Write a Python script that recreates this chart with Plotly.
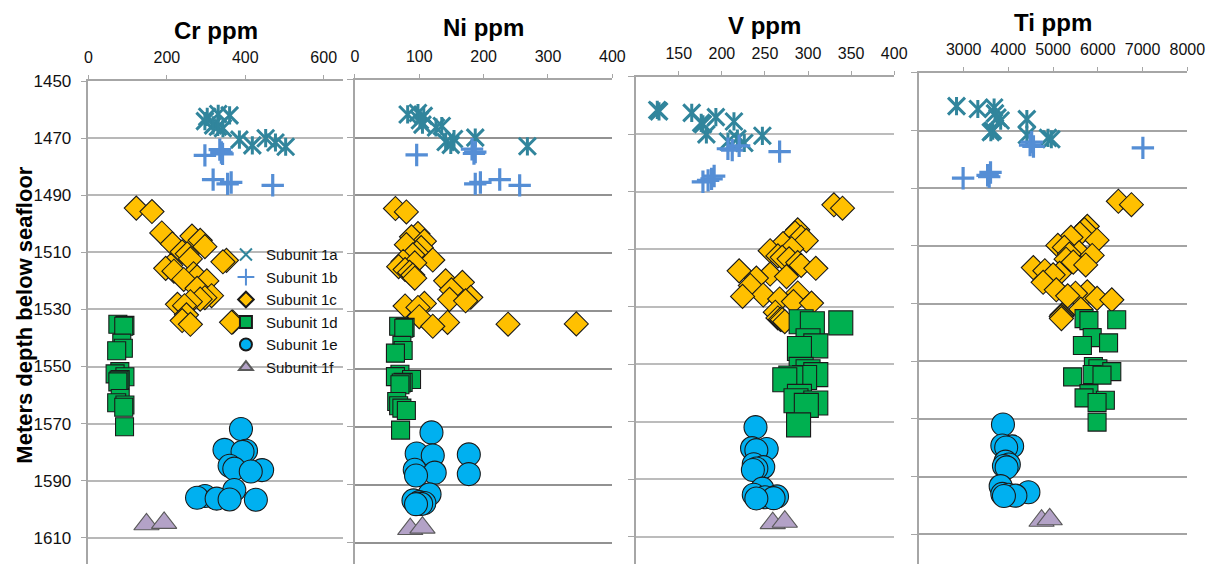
import plotly.graph_objects as go

# ---------------------------------------------------------------------------
# Data: depth (m below seafloor) of each sample and its element content (ppm)
# ---------------------------------------------------------------------------
SUBUNITS = ["Subunit 1a", "Subunit 1b", "Subunit 1c", "Subunit 1d", "Subunit 1e", "Subunit 1f"]
PANEL_TITLES = ["Cr ppm", "Ni ppm", "V ppm", "Ti ppm"]

D_1A = [1461.5, 1462.0, 1462.5, 1464.0, 1465.5, 1466.0, 1466.5, 1470.0, 1470.5, 1471.5, 1472.5, 1473.0]
CR_1A = [331, 360, 303, 297, 318, 330, 343, 452, 385, 477, 418, 503]
NI_1A = [98, 82, 107, 101, 105, 135, 126, 187, 154, 141, 149, 268]
V_1A = [125, 127, 165, 193, 214, 176, 178, 182, 247, 218, 207, 226]
TI_1A = [2840, 3680, 3316, 3700, 3754, 4412, 3827, 3650, 3607, 4412, 4886, 4960]

D_1B = [1474.0, 1475.0, 1475.5, 1476.0, 1484.5, 1485.5, 1486.0, 1486.5]
CR_1B = [335, 339, 342, 297, 318, 364, 355, 470]
NI_1B = [182, 187, 185, 96, 225, 195, 187, 256]
V_1B = [220, 207, 212, 267, 191, 188, 184, 178]
TI_1B = [4520, 4485, 4560, 7006, 3600, 3535, 3570, 2987]

D_1C = [1494.5, 1495.7, 1503.2, 1504.3, 1505.8, 1507.0, 1508.0, 1509.8, 1510.5, 1512.3,
        1512.8, 1513.3, 1514.6, 1515.6, 1516.6, 1517.5, 1518.6, 1519.5, 1520.0, 1522.6,
        1525.2, 1525.9, 1526.4, 1527.3, 1528.2, 1528.7, 1531.9, 1533.9, 1534.4, 1534.5, 1535.2]
CR_1C = [122, 162, 187, 264, 285, 214, 297, 239, 252, 260,
         352, 343, 210, 197, 218, 268, 277, 243, 302, 277,
         314, 297, 285, 260, 227, 245, 250, 239, 368, 365, 260]
NI_1C = [63, 80, 98, 88, 108, 80, 103, 96, 90, 121,
         75, 93, 68, 78, 85, 90, 93, 141, 167, 150,
         180, 147, 172, 108, 78, 98, 100, 144, 344, 238, 121]
V_1C = [330, 340, 288, 285, 292, 298, 271, 281, 256, 265,
        270, 278, 288, 292, 309, 220, 256, 275, 240, 233,
        288, 248, 224, 267, 283, 304, 262, 265, 268, 270, 273]
TI_1C = [6458, 6750, 5763, 5700, 5600, 5399, 5982, 5105, 5250, 5581,
         5362, 5873, 5289, 5450, 5728, 4557, 4814, 5143, 5000, 4776,
         5070, 5763, 5500, 5325, 5982, 6311, 5618, 5200, 5190, 5180, 5185]

D_1D = [1535.2, 1535.6, 1535.9, 1541.8, 1543.6, 1544.5, 1551.8, 1552.6, 1553.6,
        1554.6, 1554.8, 1555.4, 1561.2, 1562.7, 1563.5, 1564.3, 1571.1]
CR_1D = [75, 93, 90, 85, 89, 72, 80, 68, 93, 81, 78, 75, 81, 72, 93, 90, 92]
NI_1D = [68, 78, 76, 73, 75, 63, 70, 63, 88, 75, 72, 70, 65, 68, 73, 80, 71]
V_1D = [292, 338, 305, 300, 309, 290, 292, 300, 309, 296, 280, 273, 290, 286, 309, 298, 289]
TI_1D = [5691, 6421, 5800, 5873, 6239, 5654, 5900, 6000, 6311, 5873, 6092, 5435, 5800, 5691, 6167, 5982, 5982]

D_1E = [1571.9, 1579.2, 1579.5, 1579.9, 1584.8, 1585.8, 1586.3, 1586.8, 1593.3,
        1595.4, 1596.0, 1596.3, 1596.6, 1596.7]
CR_1E = [389, 347, 402, 393, 360, 372, 443, 414, 372, 297, 277, 327, 360, 427]
NI_1E = [119, 96, 177, 121, 93, 124, 177, 95, 116, 91, 100, 108, 103, 95]
V_1E = [239, 235, 252, 240, 237, 248, 240, 236, 247, 237, 264, 250, 260, 240]
TI_1E = [3878, 3864, 4083, 3950, 3936, 4009, 3900, 3960, 3827, 4447, 3864, 4000, 4156, 3900]

D_1F = [1605.3, 1604.8]
CR_1F = [148, 193]
NI_1F = [86, 105]
V_1F = [259, 273]
TI_1F = [4741, 4923]

DEPTHS = [D_1A, D_1B, D_1C, D_1D, D_1E, D_1F]
CR = [CR_1A, CR_1B, CR_1C, CR_1D, CR_1E, CR_1F]
NI = [NI_1A, NI_1B, NI_1C, NI_1D, NI_1E, NI_1F]
V = [V_1A, V_1B, V_1C, V_1D, V_1E, V_1F]
TI = [TI_1A, TI_1B, TI_1C, TI_1D, TI_1E, TI_1F]
ELEMENTS = [CR, NI, V, TI]

X_RANGES = [(0, 650), (0, 400), (100, 400), (2000, 8000)]
X_TICKS = [[0, 200, 400, 600],
           [0, 100, 200, 300, 400],
           [150, 200, 250, 300, 350, 400],
           [3000, 4000, 5000, 6000, 7000, 8000]]
DEPTH_TICKS = [1450, 1470, 1490, 1510, 1530, 1550, 1570, 1590, 1610]

# ---------------------------------------------------------------------------
# Layout geometry (pixels) and marker styles
# ---------------------------------------------------------------------------
W, H = 1224, 564
PANEL_X = [(86.0, 345.5), (357.3, 619.5), (643.3, 906.5), (931.7, 1205.0)]
PANEL_TOP = [73.3, 71.9, 69.0, 65.0]      # pixel row of the 1450 m line
PX_PER_M = [2.90, 2.94, 2.92, 2.93]
TITLE_Y = [22.0, 19.0, 17.0, 14.0]
GRID_COLORS = ["#b8b8b8", "#929292", "#bcbcbc", "#a4a4a4"]
SQUARE_SIZE = [18, 18, 24, 18]

FONT = "Arial, Liberation Sans, sans-serif"
AXIS_GREY = "#a6a6a6"

TEAL, BLUE = "#31859C", "#558ED5"


def marker_for(s, p):
    if s == 0:
        return dict(symbol="x-thin-open", size=17, color=TEAL, line=dict(color=TEAL, width=3))
    if s == 1:
        return dict(symbol="cross-thin-open", size=16, color=BLUE, line=dict(color=BLUE, width=3.2))
    if s == 2:
        return dict(symbol="diamond", size=18.5, color="#FFC000", line=dict(color="#1a1a1a", width=1.1))
    if s == 3:
        return dict(symbol="square", size=SQUARE_SIZE[p], color="#00B050", line=dict(color="#1a1a1a", width=1.1))
    if s == 4:
        return dict(symbol="circle", size=23, color="#00B0F0", line=dict(color="#1a1a1a", width=1.1))
    return dict(symbol="triangle-up", size=22, color="#B3A2C7", line=dict(color="#5a5a5a", width=1.1))


fig = go.Figure()

for p in range(4):
    xa = "x" if p == 0 else f"x{p + 1}"
    ya = "y" if p == 0 else f"y{p + 1}"
    for s, name in enumerate(SUBUNITS):
        fig.add_trace(go.Scatter(
            x=ELEMENTS[p][s], y=DEPTHS[s], mode="markers", name=name,
            legendgroup=name, showlegend=(p == 0),
            marker=marker_for(s, p), xaxis=xa, yaxis=ya, hoverinfo="x+y+name",
        ))
        if s == 0:
            # vertical stroke turns the x into a six-armed star
            fig.add_trace(go.Scatter(
                x=ELEMENTS[p][s], y=DEPTHS[s], mode="markers", name=name,
                legendgroup=name, showlegend=False,
                marker=dict(symbol="line-ns-open", size=13, color=TEAL,
                            line=dict(color=TEAL, width=3)),
                xaxis=xa, yaxis=ya, hoverinfo="skip",
            ))

layout = dict(
    width=W, height=H,
    margin=dict(l=0, r=0, t=0, b=0),
    paper_bgcolor="white", plot_bgcolor="white",
    font=dict(family=FONT, color="#111111"),
    showlegend=True,
    legend=dict(
        x=226 / W, y=1 - 233 / H, xanchor="left", yanchor="top",
        bgcolor="rgba(0,0,0,0)", borderwidth=0,
        font=dict(family=FONT, size=15, color="#111111"),
        itemsizing="constant", itemwidth=30, tracegroupgap=0,
    ),
)

for p in range(4):
    xkey = "xaxis" if p == 0 else f"xaxis{p + 1}"
    ykey = "yaxis" if p == 0 else f"yaxis{p + 1}"
    x0, x1 = PANEL_X[p]
    top = PANEL_TOP[p]
    bottom_depth = 1450 + (H - top) / PX_PER_M[p]
    layout[xkey] = dict(
        domain=[x0 / W, x1 / W], range=list(X_RANGES[p]), side="top",
        anchor="y" if p == 0 else f"y{p + 1}",
        tickmode="array", tickvals=X_TICKS[p],
        ticks="outside", ticklen=4, tickwidth=1.2, tickcolor=AXIS_GREY,
        showline=True, linecolor=AXIS_GREY, linewidth=1.5,
        showgrid=False, zeroline=False, ticklabelstandoff=6,
        tickfont=dict(family=FONT, size=16, color="#111111"),
        fixedrange=True,
    )
    layout[ykey] = dict(
        domain=[0, 1 - top / H], range=[bottom_depth, 1450],
        anchor="x" if p == 0 else f"x{p + 1}",
        tickmode="array", tickvals=DEPTH_TICKS, showticklabels=(p == 0),
        ticks="outside", ticklen=6, tickwidth=1.2, tickcolor=AXIS_GREY,
        showline=True, linecolor=AXIS_GREY, linewidth=1.5,
        showgrid=True, gridcolor=GRID_COLORS[p], gridwidth=1.5,
        zeroline=False, ticklabelstandoff=6,
        tickfont=dict(family=FONT, size=17, color="#111111"),
        fixedrange=True,
    )

annotations = []
for p, title in enumerate(PANEL_TITLES):
    x0, x1 = PANEL_X[p]
    annotations.append(dict(
        text=f"<b>{title}</b>", xref="paper", yref="paper",
        x=(x0 + x1) / 2 / W, y=1 - TITLE_Y[p] / H,
        xanchor="center", yanchor="middle", showarrow=False,
        font=dict(family=FONT, size=24, color="#000000"),
    ))
annotations.append(dict(
    text="<b>Meters depth below seafloor</b>", xref="paper", yref="paper",
    x=20 / W, y=1 - 311 / H, xanchor="center", yanchor="middle",
    textangle=-90, showarrow=False,
    font=dict(family=FONT, size=22, color="#000000"),
))
layout["annotations"] = annotations

fig.update_layout(**layout)
fig.write_html("out.html")
